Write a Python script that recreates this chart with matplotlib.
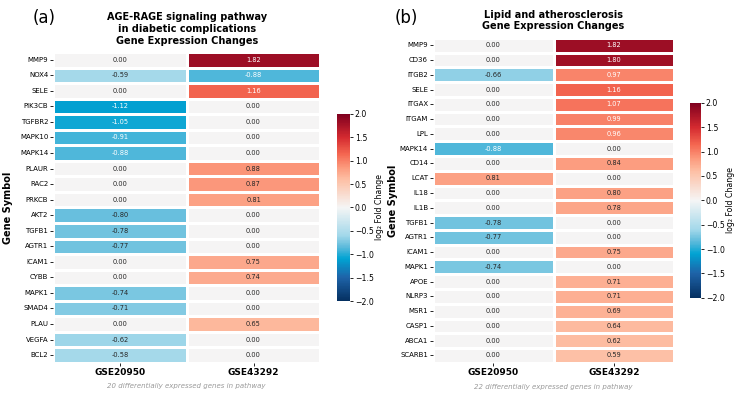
import numpy as np
import pandas as pd
import matplotlib
matplotlib.use("Agg")
import matplotlib.pyplot as plt
from matplotlib.colors import LinearSegmentedColormap
import seaborn as sns

datasets = ["GSE20950", "GSE43292"]

# (a) AGE-RAGE pathway
genes_a = ["MMP9", "NOX4", "SELE", "PIK3CB", "TGFBR2", "MAPK10", "MAPK14", "PLAUR",
           "RAC2", "PRKCB", "AKT2", "TGFB1", "AGTR1", "ICAM1", "CYBB", "MAPK1",
           "SMAD4", "PLAU", "VEGFA", "BCL2"]
gse20950_a = [0, -0.59, 0, -1.12, -1.05, -0.91, -0.88, 0, 0, 0, -0.80, -0.78, -0.77,
              0, 0, -0.74, -0.71, 0, -0.62, -0.58]
gse43292_a = [1.82, -0.88, 1.16, 0, 0, 0, 0, 0.88, 0.87, 0.81, 0, 0, 0, 0.75, 0.74,
              0, 0, 0.65, 0, 0]

# (b) Lipid and atherosclerosis
genes_b = ["MMP9", "CD36", "ITGB2", "SELE", "ITGAX", "ITGAM", "LPL", "MAPK14", "CD14",
           "LCAT", "IL18", "IL1B", "TGFB1", "AGTR1", "ICAM1", "MAPK1", "APOE", "NLRP3",
           "MSR1", "CASP1", "ABCA1", "SCARB1"]
gse20950_b = [0, 0, -0.66, 0, 0, 0, 0, -0.88, 0, 0.81, 0, 0, -0.78, -0.77, 0, -0.74,
              0, 0, 0, 0, 0, 0]
gse43292_b = [1.82, 1.80, 0.97, 1.16, 1.07, 0.99, 0.96, 0, 0.84, 0, 0.80, 0.78, 0, 0,
              0.75, 0, 0.71, 0.71, 0.69, 0.64, 0.62, 0.59]

cmap = LinearSegmentedColormap.from_list("fc", [
    (0.0, "#053061"), (0.125, "#1e63a8"), (0.225, "#00a3d3"), (0.2875, "#5cbadb"),
    (0.35, "#a3d8ea"), (0.5, "#f5f5f5"), (0.65, "#fdbfa4"), (0.7125, "#fc9b7e"),
    (0.7875, "#f46650"), (0.875, "#d42a30"), (1.0, "#7f001f")])

fig = plt.figure(figsize=(7.38, 3.94), dpi=100)


def panel(hm_pos, cb_pos, genes, v1, v2, title, letter, letter_x, ylab_x):
    df = pd.DataFrame({datasets[0]: v1, datasets[1]: v2}, index=genes)
    ax = fig.add_axes(hm_pos)
    cax = fig.add_axes(cb_pos)
    sns.heatmap(df, ax=ax, cbar_ax=cax, cmap=cmap, vmin=-2, vmax=2, annot=True,
                fmt=".2f", annot_kws={"size": 4.8}, linewidths=1, linecolor="white",
                cbar_kws={"ticks": np.arange(-2, 2.01, 0.5)})
    ax.set_title(title, fontsize=7, fontweight="bold", pad=6)
    ax.set_ylabel("Gene Symbol", fontsize=7, fontweight="bold")
    ax.yaxis.set_label_coords(ylab_x, 0.5)
    ax.tick_params(axis="y", labelsize=5, length=2, width=0.6, rotation=0, pad=1.5)
    ax.tick_params(axis="x", labelsize=6.5, length=2, width=0.6, pad=2)
    for t in ax.get_xticklabels():
        t.set_fontweight("bold")
    cax.tick_params(labelsize=5.6, length=2, width=0.6, pad=1.5)
    cax.set_ylabel("log\u2082 Fold Change", fontsize=5.6, labelpad=1)
    ax.text(0.5, -0.075, f"{len(genes)} differentially expressed genes in pathway",
            transform=ax.transAxes, ha="center", va="center", fontsize=5,
            style="italic", color="#999999")
    fig.text(letter_x, 0.955, letter, fontsize=12, ha="left", va="center")


panel([0.072, 0.079, 0.362, 0.789], [0.4566, 0.236, 0.0176, 0.475],
      genes_a, gse20950_a, gse43292_a,
      "AGE-RAGE signaling pathway\nin diabetic complications\nGene Expression Changes",
      "(a)", 0.044, -0.15)
panel([0.5867, 0.079, 0.3266, 0.825], [0.935, 0.244, 0.0149, 0.495],
      genes_b, gse20950_b, gse43292_b,
      "Lipid and atherosclerosis\nGene Expression Changes",
      "(b)", 0.535, -0.145)

fig.savefig("out.png", dpi=100)
